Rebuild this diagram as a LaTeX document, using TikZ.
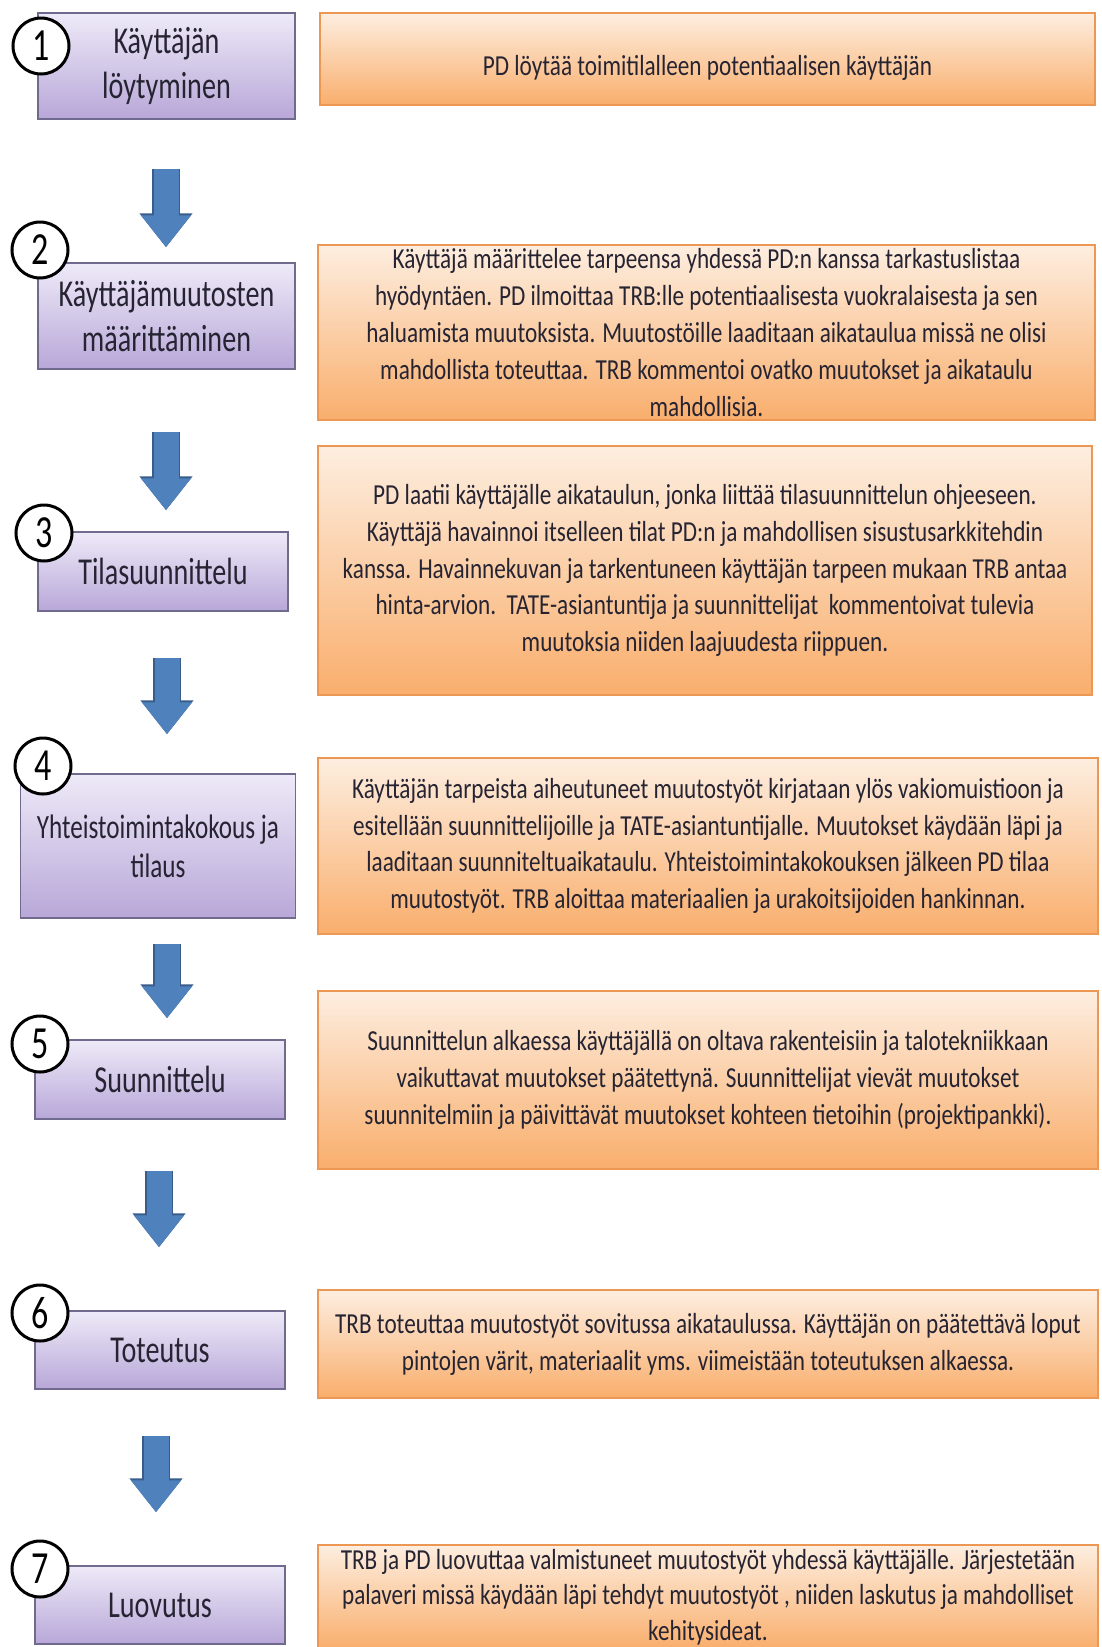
\documentclass[tikz,border=0pt]{standalone}
\usepackage{fontspec}
\setmainfont{Carlito}
\newfontfamily\bodyfont{Carlito}[FakeStretch=0.8]
\newfontfamily\labelfont{Carlito}[FakeStretch=0.74]
\usepackage{tikz}
\usetikzlibrary{arrows.meta}

\definecolor{lavtop}{RGB}{238,234,248}
\definecolor{lavbot}{RGB}{184,167,216}
\definecolor{lavedge}{RGB}{112,106,142}
\definecolor{peachtop}{RGB}{253,238,224}
\definecolor{peachbot}{RGB}{249,174,108}
\definecolor{peachedge}{RGB}{236,152,84}
\definecolor{arrowblue}{RGB}{79,129,189}
\definecolor{arrowedge}{RGB}{56,93,138}
\definecolor{inktext}{RGB}{38,36,50}

\begin{document}
\begin{tikzpicture}[x=1pt, y=-1pt]
    \tikzstyle{stage} = [rectangle, draw=lavedge, line width=1.5pt, top color=lavtop, bottom color=lavbot, text=inktext, align=center, inner sep=0pt, font=\labelfont\fontsize{38}{45}\selectfont]
    \tikzstyle{note} = [rectangle, draw=peachedge, line width=1.2pt, top color=peachtop, bottom color=peachbot, text=inktext, align=center, inner sep=0pt, font=\bodyfont\fontsize{29}{36.8}\selectfont]
    \tikzstyle{num} = [circle, draw=black, line width=3pt, fill=white, minimum size=56pt, inner sep=0pt, font=\labelfont\fontsize{46}{46}\selectfont]
    \tikzstyle{line} = [draw=arrowblue, line width=25pt, -{Triangle[width=48pt,length=32pt]}, preaction={draw=arrowedge, line width=27.5pt, -{Triangle[width=51pt,length=34pt]}}]

    \fill [white] (0,0) rectangle (1101,1647);
    \useasboundingbox (0,0) rectangle (1101,1647);

    \node [stage, minimum width=257pt, minimum height=106pt] (s1) at (166.5,66) {Käyttäjän\\löytyminen};
    \node [stage, minimum width=257pt, minimum height=106pt] (s2) at (166.5,316) {Käyttäjämuutosten\\määrittäminen};
    \node [stage, minimum width=250pt, minimum height=79pt] (s3) at (163,571.5) {Tilasuunnittelu};
    \node [stage, minimum width=275pt, minimum height=144pt, font=\labelfont\fontsize{34}{39}\selectfont] (s4) at (158,846) {Yhteistoimintakokous ja\\tilaus};
    \node [stage, minimum width=250pt, minimum height=79pt] (s5) at (160,1079.5) {Suunnittelu};
    \node [stage, minimum width=250pt, minimum height=78pt] (s6) at (160,1350) {Toteutus};
    \node [stage, minimum width=250pt, minimum height=78pt] (s7) at (160,1605) {Luovutus};

    \node [note, minimum width=775pt, minimum height=92pt] (n1) at (707.5,59) {\raisebox{-16pt}[0pt][0pt]{PD löytää toimitilalleen potentiaalisen käyttäjän}};
    \node [note, minimum width=777pt, minimum height=175pt] (n2) at (706.5,332.5) {Käyttäjä määrittelee tarpeensa yhdessä PD:n kanssa tarkastuslistaa\\hyödyntäen. PD ilmoittaa TRB:lle potentiaalisesta vuokralaisesta ja sen\\haluamista muutoksista. Muutostöille laaditaan aikataulua missä ne olisi\\mahdollista toteuttaa. TRB kommentoi ovatko muutokset ja aikataulu\\mahdollisia.};
    \node [note, minimum width=774pt, minimum height=249pt] (n3) at (705,570.5) {PD laatii käyttäjälle aikataulun, jonka liittää tilasuunnittelun ohjeeseen.\\Käyttäjä havainnoi itselleen tilat PD:n ja mahdollisen sisustusarkkitehdin\\kanssa. Havainnekuvan ja tarkentuneen käyttäjän tarpeen mukaan TRB antaa\\hinta-arvion.\ \ TATE-asiantuntija ja suunnittelijat\ \ kommentoivat tulevia\\muutoksia niiden laajuudesta riippuen.};
    \node [note, minimum width=780pt, minimum height=176pt] (n4) at (708,846) {Käyttäjän tarpeista aiheutuneet muutostyöt kirjataan ylös vakiomuistioon ja\\esitellään suunnittelijoille ja TATE-asiantuntijalle. Muutokset käydään läpi ja\\laaditaan suunniteltuaikataulu. Yhteistoimintakokouksen jälkeen PD tilaa\\muutostyöt. TRB aloittaa materiaalien ja urakoitsijoiden hankinnan.};
    \node [note, minimum width=780pt, minimum height=178pt] (n5) at (708,1080) {Suunnittelun alkaessa käyttäjällä on oltava rakenteisiin ja talotekniikkaan\\vaikuttavat muutokset päätettynä. Suunnittelijat vievät muutokset\\suunnitelmiin ja päivittävät muutokset kohteen tietoihin (projektipankki).};
    \node [note, minimum width=780pt, minimum height=108pt] (n6) at (708,1344) {TRB toteuttaa muutostyöt sovitussa aikataulussa. Käyttäjän on päätettävä loput\\pintojen värit, materiaalit yms. viimeistään toteutuksen alkaessa.};
    \node [note, minimum width=780pt, minimum height=104pt, font=\bodyfont\fontsize{29}{35.5}\selectfont] (n7) at (708,1597) {TRB ja PD luovuttaa valmistuneet muutostyöt yhdessä käyttäjälle. Järjestetään\\palaveri missä käydään läpi tehdyt muutostyöt , niiden laskutus ja mahdolliset\\kehitysideat.};

    \node [num] (c1) at (41,46) {1};
    \node [num] (c2) at (40,250) {2};
    \node [num] (c3) at (44,533) {3};
    \node [num] (c4) at (43,766) {4};
    \node [num] (c5) at (40,1044) {5};
    \node [num] (c6) at (40,1313) {6};
    \node [num] (c7) at (40,1569) {7};

    \foreach \a/\b/\x/\s/\e in {s1/s2/166/49/15, s2/s3/166/62/21, s3/s4/167/46/39, s4/s5/167/25/21, s5/s6/159/51/63, s6/s7/156/46/53}
        \path [line, shorten <=\s pt, shorten >=\e pt] (\x,0 |- \a.south) -- (\x,0 |- \b.north);
\end{tikzpicture}
\end{document}
